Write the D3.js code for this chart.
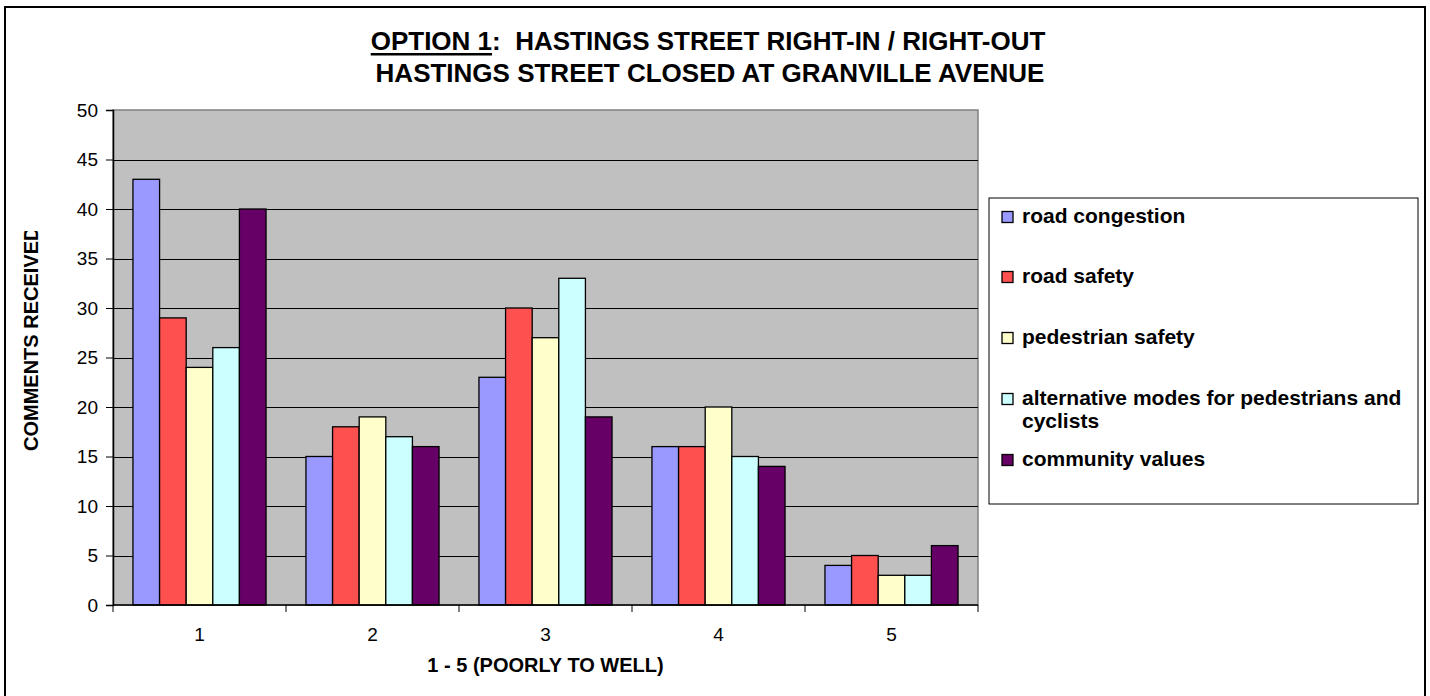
<!DOCTYPE html>
<html>
<head>
<meta charset="utf-8">
<script src="https://cdn.jsdelivr.net/npm/d3@7"></script>
<style>
  html, body { margin: 0; padding: 0; background: #fff; }
  svg { display: block; font-family: "Liberation Sans", Arial, sans-serif; }
</style>
</head>
<body>
<svg id="chart" width="1430" height="696"></svg>
<script>
const categories = ["1", "2", "3", "4", "5"];
const seriesNames = [
  "road congestion",
  "road safety",
  "pedestrian safety",
  "alternative modes for pedestrians and cyclists",
  "community values"
];
const roadCongestion = [43, 15, 23, 16, 4];
const roadSafety = [29, 18, 30, 16, 5];
const pedestrianSafety = [24, 19, 27, 20, 3];
const alternativeModes = [26, 17, 33, 15, 3];
const communityValues = [40, 16, 19, 14, 6];
const seriesColors = ["#9999FF", "#FF5050", "#FFFFCC", "#CCFFFF", "#660066"];
const yTicks = [0, 5, 10, 15, 20, 25, 30, 35, 40, 45, 50];
const titleLine1a = "OPTION 1";
const titleLine1b = ":  HASTINGS STREET RIGHT-IN / RIGHT-OUT";
const titleLine2 = "HASTINGS STREET CLOSED AT GRANVILLE AVENUE";
const xTitle = "1 - 5 (POORLY TO WELL)";
const yTitle = "COMMENTS RECEIVED";
const legendLines = [
  ["road congestion"],
  ["road safety"],
  ["pedestrian safety"],
  ["alternative modes for pedestrians and", "cyclists"],
  ["community values"]
];

const seriesValues = [roadCongestion, roadSafety, pedestrianSafety, alternativeModes, communityValues];

const svg = d3.select("#chart");

// outer chart border
svg.append("rect")
  .attr("x", 5).attr("y", 7).attr("width", 1420).attr("height", 700)
  .attr("fill", "#fff").attr("stroke", "#000").attr("stroke-width", 2);

const plot = { left: 113, right: 978, top: 110, bottom: 605 };

const x0 = d3.scaleBand().domain(categories).range([plot.left, plot.right]).padding(0);
const x1 = d3.scaleBand().domain(d3.range(seriesNames.length))
  .range([0, x0.bandwidth()]).paddingInner(0).paddingOuter(0.75);
const y = d3.scaleLinear().domain([0, 50]).range([plot.bottom, plot.top]);

// plot background
svg.append("rect")
  .attr("x", plot.left).attr("y", plot.top)
  .attr("width", plot.right - plot.left).attr("height", plot.bottom - plot.top)
  .attr("fill", "#C0C0C0").attr("stroke", "#808080").attr("stroke-width", 1.5);

// gridlines
svg.append("g").selectAll("line")
  .data(yTicks.filter(d => d > 0 && d < 50))
  .join("line")
  .attr("x1", plot.left).attr("x2", plot.right)
  .attr("y1", d => Math.round(y(d)) + 0.5).attr("y2", d => Math.round(y(d)) + 0.5)
  .attr("stroke", "#000").attr("stroke-width", 1);

// bars
const groups = svg.append("g").selectAll("g")
  .data(categories)
  .join("g")
  .attr("transform", d => `translate(${x0(d)},0)`);

groups.selectAll("rect")
  .data((c, ci) => seriesValues.map((vals, si) => ({ si, v: vals[ci] })))
  .join("rect")
  .attr("x", d => x1(d.si))
  .attr("y", d => y(d.v))
  .attr("width", x1.bandwidth())
  .attr("height", d => y(0) - y(d.v))
  .attr("fill", d => seriesColors[d.si])
  .attr("stroke", "#000").attr("stroke-width", 1.3);

// y axis
const yAxis = d3.axisLeft(y).tickValues(yTicks).tickSize(7).tickPadding(8);
const gy = svg.append("g").attr("transform", `translate(${plot.left},0)`).call(yAxis);
gy.select(".domain").attr("stroke", "#000").attr("stroke-width", 1.5);
gy.selectAll(".tick line").attr("stroke", "#000");
gy.selectAll(".tick text")
  .attr("font-size", 19).attr("fill", "#000")
  .style("font-family", "'Liberation Sans', Arial, sans-serif");

// x axis (ticks at category boundaries)
const xAxisG = svg.append("g").attr("transform", `translate(0,${plot.bottom})`);
xAxisG.append("line")
  .attr("x1", plot.left).attr("x2", plot.right)
  .attr("y1", 0).attr("y2", 0)
  .attr("stroke", "#000").attr("stroke-width", 1.5);
const boundaries = categories.map(c => x0(c)).concat([x0(categories[categories.length - 1]) + x0.bandwidth()]);
xAxisG.selectAll("line.tk")
  .data(boundaries)
  .join("line").attr("class", "tk")
  .attr("x1", d => d).attr("x2", d => d)
  .attr("y1", 0).attr("y2", 7)
  .attr("stroke", "#000");
xAxisG.selectAll("text")
  .data(categories)
  .join("text")
  .attr("x", d => x0(d) + x0.bandwidth() / 2)
  .attr("y", 36)
  .attr("text-anchor", "middle")
  .attr("font-size", 19)
  .text(d => d);

// axis titles
svg.append("text")
  .attr("x", (plot.left + plot.right) / 2)
  .attr("y", 672)
  .attr("text-anchor", "middle")
  .attr("font-size", 20).attr("font-weight", "bold")
  .text(xTitle);

svg.append("clipPath").attr("id", "yclip")
  .append("rect").attr("x", 0).attr("y", 231).attr("width", 100).attr("height", 300);
svg.append("g").attr("clip-path", "url(#yclip)")
  .append("text")
  .attr("transform", "translate(38,451) rotate(-90)")
  .attr("text-anchor", "start")
  .attr("font-size", 20).attr("font-weight", "bold")
  .text(yTitle);

// title
const t1 = svg.append("text")
  .attr("x", 708).attr("y", 50)
  .attr("text-anchor", "middle")
  .attr("font-size", 26).attr("font-weight", "bold")
  .style("white-space", "pre")
  .attr("xml:space", "preserve");
t1.append("tspan").text(titleLine1a);
t1.append("tspan").text(titleLine1b);
const t1n = t1.node();
const ux0 = t1n.getStartPositionOfChar(0).x;
const ux1 = t1n.getEndPositionOfChar(titleLine1a.length - 1).x;
svg.append("rect")
  .attr("x", ux0).attr("y", 53)
  .attr("width", ux1 - ux0).attr("height", 2.5)
  .attr("fill", "#000");

svg.append("text")
  .attr("x", 710).attr("y", 82)
  .attr("text-anchor", "middle")
  .attr("font-size", 26).attr("font-weight", "bold")
  .text(titleLine2);

// legend
const legend = svg.append("g");
legend.append("rect")
  .attr("x", 989).attr("y", 198).attr("width", 429).attr("height", 306)
  .attr("fill", "#fff").attr("stroke", "#000").attr("stroke-width", 1);

const legendBaselines = [223, 283, 344, 405, 466];
const legItems = legend.selectAll("g.item")
  .data(seriesNames)
  .join("g").attr("class", "item");
legItems.append("rect")
  .attr("x", 1002)
  .attr("y", (d, i) => legendBaselines[i] - 11.5)
  .attr("width", 11).attr("height", 11)
  .attr("fill", (d, i) => seriesColors[i])
  .attr("stroke", "#000").attr("stroke-width", 1.3);
legItems.append("text")
  .attr("x", 1022)
  .attr("y", (d, i) => legendBaselines[i])
  .attr("font-size", 21).attr("font-weight", "bold")
  .each(function (d, i) {
    const t = d3.select(this);
    legendLines[i].forEach((ln, j) => {
      t.append("tspan").attr("x", 1022).attr("dy", j === 0 ? 0 : 23).text(ln);
    });
  });
</script>
</body>
</html>
